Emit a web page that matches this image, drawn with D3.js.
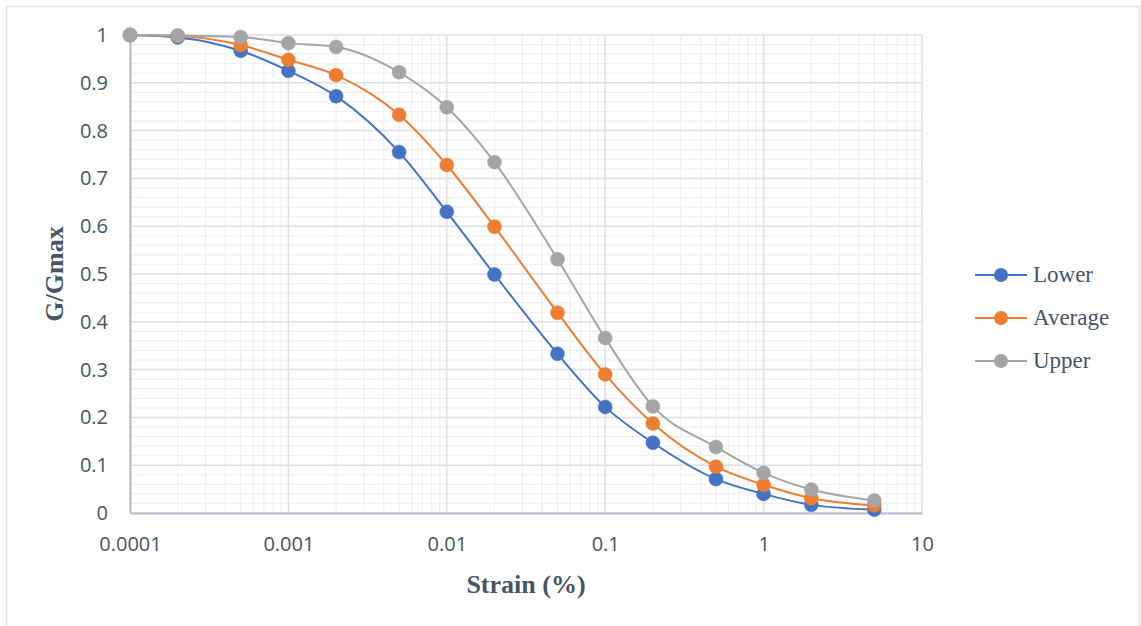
<!DOCTYPE html>
<html>
<head>
<meta charset="utf-8">
<script src="https://cdn.jsdelivr.net/npm/d3@7"></script>
<style>
  html, body { margin: 0; padding: 0; background: #fff; }
  svg { display: block; }
</style>
</head>
<body>
<svg id="chart" width="1141" height="626"></svg>
<script>
const strain = [0.0001, 0.0002, 0.0005, 0.001, 0.002, 0.005, 0.01, 0.02, 0.05, 0.1, 0.2, 0.5, 1, 2, 5];
const lower   = [1, 0.995, 0.967, 0.925, 0.872, 0.755, 0.630, 0.499, 0.333, 0.222, 0.147, 0.071, 0.040, 0.017, 0.007];
const average = [1, 0.998, 0.979, 0.948, 0.916, 0.833, 0.728, 0.599, 0.419, 0.290, 0.187, 0.097, 0.059, 0.031, 0.016];
const upper   = [1, 0.999, 0.996, 0.983, 0.975, 0.922, 0.849, 0.734, 0.531, 0.366, 0.223, 0.138, 0.084, 0.049, 0.026];
const seriesNames = ["Lower", "Average", "Upper"];
const seriesColors = ["#4472C4", "#ED7D31", "#A5A5A5"];
const xTicks = [0.0001, 0.001, 0.01, 0.1, 1, 10];
const xTickLabels = ["0.0001", "0.001", "0.01", "0.1", "1", "10"];
const yTicks = [0, 0.1, 0.2, 0.3, 0.4, 0.5, 0.6, 0.7, 0.8, 0.9, 1];
const yTickLabels = ["0", "0.1", "0.2", "0.3", "0.4", "0.5", "0.6", "0.7", "0.8", "0.9", "1"];

const seriesValues = [lower, average, upper];

const svg = d3.select("#chart");
const pLeft = 130, pRight = 922, pTop = 35, pBottom = 513;
const x = d3.scaleLog().domain([0.0001, 10]).range([pLeft, pRight]);
const y = d3.scaleLinear().domain([0, 1]).range([pBottom, pTop]);

// outer frame
svg.append("rect").attr("x", 6.5).attr("y", 6.5).attr("width", 1133).attr("height", 640)
  .attr("fill", "none").attr("stroke", "#DDE1E8").attr("stroke-width", 1.5);

const grid = svg.append("g");
// minor vertical gridlines
const minorX = [];
for (let e = -4; e < 1; e++) for (let m = 2; m <= 9; m++) minorX.push(m * Math.pow(10, e));
grid.selectAll(".mx").data(minorX).enter().append("line")
  .attr("x1", d => x(d)).attr("x2", d => x(d)).attr("y1", pTop).attr("y2", pBottom)
  .attr("stroke", "#EEF0F4").attr("stroke-width", 1.2);
// minor horizontal gridlines
const minorY = d3.range(0, 51).map(i => i * 0.02).filter((d, i) => i % 5 !== 0);
grid.selectAll(".my").data(minorY).enter().append("line")
  .attr("x1", pLeft).attr("x2", pRight).attr("y1", d => y(d)).attr("y2", d => y(d))
  .attr("stroke", "#EEF0F4").attr("stroke-width", 1.2);
// major gridlines
grid.selectAll(".Mx").data(xTicks).enter().append("line")
  .attr("x1", d => x(d)).attr("x2", d => x(d)).attr("y1", pTop).attr("y2", pBottom)
  .attr("stroke", "#DCE0E7").attr("stroke-width", 1.5);
grid.selectAll(".My").data(yTicks).enter().append("line")
  .attr("x1", pLeft).attr("x2", pRight).attr("y1", d => y(d)).attr("y2", d => y(d))
  .attr("stroke", "#DCE0E7").attr("stroke-width", 1.5);

// axes
const xAxis = d3.axisBottom(x).tickValues(xTicks).tickFormat((d, i) => xTickLabels[i]).tickSize(0).tickPadding(24);
const gx = svg.append("g").attr("transform", `translate(0,${pBottom})`).call(xAxis);
gx.select(".domain").attr("stroke", "#B4BDCC").attr("stroke-width", 2);
gx.selectAll("text").attr("font-family", "'Open Sans', sans-serif").attr("font-size", 20).attr("fill", "#465466");

const yAxis = d3.axisLeft(y).tickValues(yTicks).tickFormat((d, i) => yTickLabels[i]).tickSize(0).tickPadding(22);
const gy = svg.append("g").attr("transform", `translate(${pLeft},0)`).call(yAxis);
gy.select(".domain").attr("stroke", "#B4BDCC").attr("stroke-width", 2);
gy.selectAll("text").attr("font-family", "'Open Sans', sans-serif").attr("font-size", 20).attr("fill", "#465466");

// axis titles
svg.append("text").attr("x", (pLeft + pRight) / 2).attr("y", 593).attr("text-anchor", "middle")
  .attr("font-family", "'Liberation Serif', 'Times New Roman', serif").attr("font-weight", "bold")
  .attr("font-size", 26).attr("fill", "#465466").text("Strain (%)");
svg.append("text").attr("transform", `translate(63,274) rotate(-90)`).attr("text-anchor", "middle")
  .attr("font-family", "'Liberation Serif', 'Times New Roman', serif").attr("font-weight", "bold")
  .attr("font-size", 26).attr("fill", "#465466").text("G/Gmax");

// series
const line = d3.line().x(d => x(d[0])).y(d => y(d[1])).curve(d3.curveMonotoneX);
seriesValues.forEach((vals, si) => {
  const pts = strain.map((s, i) => [s, vals[i]]);
  svg.append("path").datum(pts).attr("d", line).attr("fill", "none")
    .attr("stroke", seriesColors[si]).attr("stroke-width", 2);
});
seriesValues.forEach((vals, si) => {
  const pts = strain.map((s, i) => [s, vals[i]]);
  svg.append("g").selectAll("circle").data(pts).enter().append("circle")
    .attr("cx", d => x(d[0])).attr("cy", d => y(d[1])).attr("r", 7)
    .attr("fill", seriesColors[si]).attr("stroke", seriesColors[si]).attr("stroke-width", 0.5);
});

// legend
const legend = svg.append("g");
seriesNames.forEach((name, i) => {
  const ly = 275 + i * 43;
  legend.append("line").attr("x1", 975).attr("x2", 1027).attr("y1", ly).attr("y2", ly)
    .attr("stroke", seriesColors[i]).attr("stroke-width", 2);
  legend.append("circle").attr("cx", 1001).attr("cy", ly).attr("r", 7).attr("fill", seriesColors[i]);
  legend.append("text").attr("x", 1033).attr("y", ly + 7)
    .attr("font-family", "'Liberation Serif', 'Times New Roman', serif")
    .attr("font-size", 23).attr("fill", "#465466").text(name);
});
</script>
</body>
</html>
